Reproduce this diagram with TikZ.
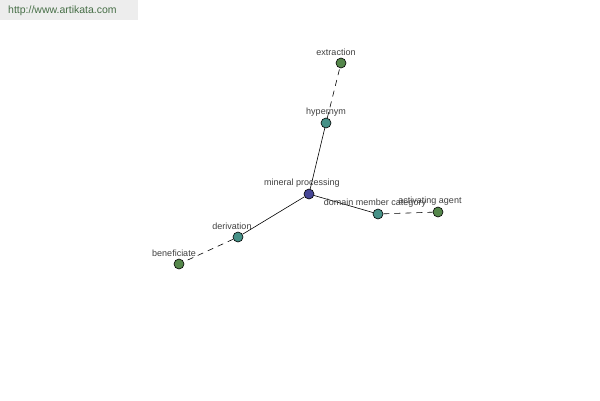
\documentclass[tikz,border=0pt]{standalone}
\usepackage{fontspec}
\setmainfont{Liberation Sans}
\begin{document}
\begin{tikzpicture}[x=1pt,y=-1pt,
  nd/.style={circle,draw=black,line width=0.6pt,minimum size=10pt,inner sep=0pt},
  lbl/.style={font=\fontsize{9}{10}\selectfont,text=black!75,inner sep=0pt},
  edge/.style={line width=0.6pt,black},
  dedge/.style={edge,dash pattern=on 6pt off 5pt}]
\useasboundingbox (0,0) rectangle (600,400);
\fill[white] (0,0) rectangle (600,400);
\fill[black!7] (0,0) rectangle (138,20);
\definecolor{wmc}{RGB}{70,110,70}
\node[anchor=west,font=\fontsize{10.5}{12}\selectfont,text=wmc,inner sep=0pt] (wm) at (8,11) {http://www.artikata.com};
\definecolor{cblue}{RGB}{70,70,150}
\definecolor{cteal}{RGB}{70,145,135}
\definecolor{cgreen}{RGB}{85,135,75}
\node[nd,fill=cblue] (mp) at (309,194) {};
\node[nd,fill=cteal] (hy) at (326,123) {};
\node[nd,fill=cgreen] (ex) at (341,63) {};
\node[nd,fill=cteal] (dmc) at (378,214) {};
\node[nd,fill=cgreen] (aa) at (438,212) {};
\node[nd,fill=cteal] (de) at (238,237) {};
\node[nd,fill=cgreen] (be) at (179,264) {};
\draw[edge] (mp) -- (hy);
\draw[edge] (mp) -- (dmc);
\draw[edge] (mp) -- (de);
\draw[dedge] (hy) -- (ex);
\draw[dedge] (dmc) -- (aa);
\draw[dedge] (de) -- (be);
\node[lbl] (lmp) at (302,183) {mineral processing};
\node[lbl] (lhy) at (326,112) {hypernym};
\node[lbl] (lex) at (336,52) {extraction};
\node[lbl] (ldmc) at (375,203) {domain member category};
\node[lbl] (laa) at (430,201) {activating agent};
\node[lbl] (lde) at (232,226) {derivation};
\node[lbl] (lbe) at (174,253) {beneficiate};
\end{tikzpicture}
\end{document}
